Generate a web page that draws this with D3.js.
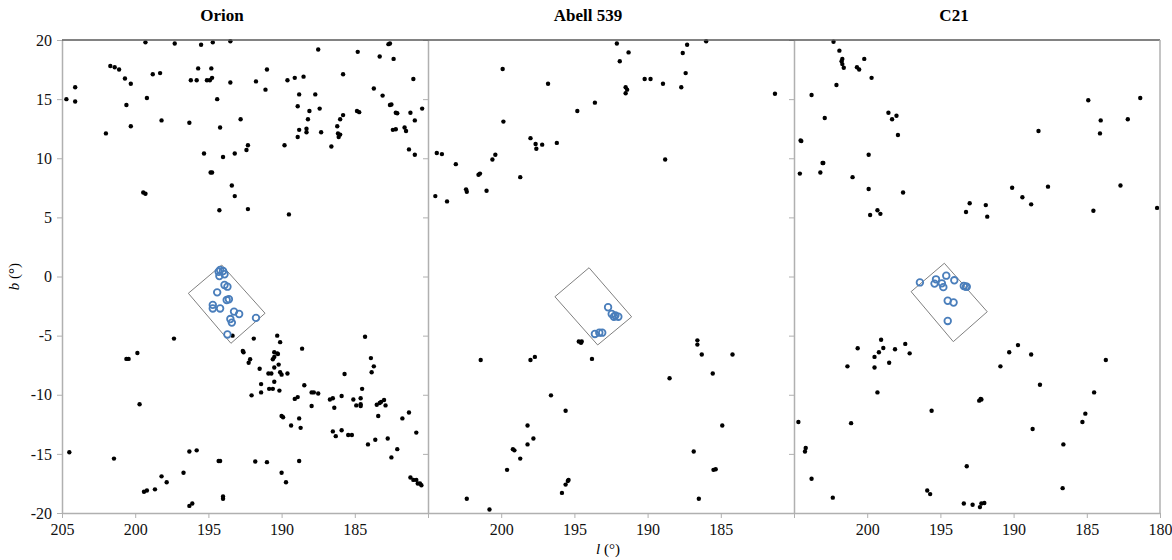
<!DOCTYPE html>
<html>
<head>
<meta charset="utf-8">
<script src="https://cdn.jsdelivr.net/npm/d3@7"></script>
<style>
  body { margin: 0; background: #fff; }
  svg { font-family: "Liberation Serif", "Times New Roman", serif; }
</style>
</head>
<body>
<svg id="s" width="1172" height="560"></svg>
<script>
// panel names
var panelNames = ["Orion", "Abell 539", "C21"];

// tick values
var lTicks = [205, 200, 195, 190, 185, 180];
var bTicks = [-20, -15, -10, -5, 0, 5, 10, 15, 20];
var lLabels = [[205, 200, 195, 190, 185], [200, 195, 190, 185], [200, 195, 190, 185, 180]];

// field objects [l, b]
var orionField = [
 [204.7,15.0],[204.1,16.0],[204.1,14.8],[202.0,12.1],[201.7,17.8],[201.4,17.7],[201.1,17.5],[200.7,16.75],
 [200.3,16.3],[200.6,14.5],[200.3,12.7],[199.3,19.8],[199.2,15.1],[198.8,17.1],[198.3,17.2],[198.2,13.2],
 [197.3,19.7],[196.3,13.0],[196.2,16.6],[195.8,16.6],[195.7,17.6],[195.5,19.6],[195.3,10.4],[195.1,16.6],
 [194.9,16.6],[194.75,16.8],[194.8,17.6],[194.7,19.8],[194.4,15.0],[194.2,12.6],[194.0,10.1],[194.85,8.8],
 [194.75,8.8],[193.5,19.9],[193.5,16.4],[192.8,13.3],[193.2,10.4],[192.4,10.7],[192.3,11.1],[191.75,16.5],
 [191.0,17.5],[191.1,15.8],[189.8,11.1],[189.6,16.6],[189.1,16.8],[188.5,16.9],[188.9,14.4],[188.8,15.4],
 [188.9,11.8],[188.8,12.4],[188.2,13.3],[188.1,14.0],[188.3,12.5],[188.3,12.2],[187.7,15.4],[187.5,19.2],
 [187.4,14.2],[187.3,12.2],[186.6,11.0],[186.2,12.7],[186.15,12.1],[186.1,11.8],[186.0,12.0],[186.0,13.3],
 [185.8,13.65],[185.8,17.1],[184.8,19.0],[184.85,14.0],[184.7,13.9],[183.7,15.9],[183.3,18.6],[183.1,15.3],
 [182.7,19.65],[182.6,19.7],[182.35,18.4],[182.6,14.5],[182.5,14.55],[182.2,13.85],[182.1,13.8],[182.4,12.4],
 [182.2,12.45],[181.6,12.6],[181.5,12.3],[181.3,10.75],[180.9,10.3],[181.2,13.85],[181.0,16.7],[180.9,13.2],
 [180.4,14.2],
 [199.45,7.1],[199.3,7.0],[193.4,7.7],[193.2,6.8],[194.25,5.6],[192.3,5.7],[189.5,5.25],
 [197.35,-5.25],[193.35,-5.0],[191.9,-5.25],[190.3,-5.0],[190.1,-5.55],[184.3,-5.1],[188.6,-6.1],
 [204.5,-14.86],[201.45,-15.4],[200.6,-6.97],[200.45,-6.97],[199.85,-6.47],[199.7,-10.8],[199.4,-18.2],
 [199.2,-18.1],[198.65,-18.0],[198.2,-16.9],[197.85,-17.4],[196.7,-16.6],[196.3,-14.8],[195.8,-14.7],
 [196.3,-19.4],[196.1,-19.2],[194.3,-15.6],[194.2,-15.6],[194.0,-18.6],[194.0,-18.8],[192.65,-6.3],
 [192.6,-6.4],[192.25,-7.3],[192.15,-7.0],[191.5,-7.8],[191.4,-9.1],[191.4,-9.8],[192.05,-10.05],
 [190.9,-8.2],[190.7,-8.2],[190.85,-9.5],[190.6,-9.5],[190.6,-7.0],[190.5,-6.8],[190.5,-6.4],[190.3,-6.5],
 [190.25,-6.55],[190.5,-7.7],[190.5,-8.9],[190.2,-7.45],[190.1,-8.1],[190.0,-8.3],[190.15,-9.65],
 [189.6,-8.2],[190.0,-11.8],[189.9,-11.9],[189.35,-12.6],[190.0,-16.6],[189.7,-17.4],[188.45,-9.2],
 [189.1,-10.35],[188.9,-10.2],[188.8,-12.0],[188.7,-12.8],[188.8,-15.6],[187.95,-9.8],[187.8,-9.8],
 [187.5,-9.9],[187.95,-10.95],[191.8,-15.65],[191.0,-15.7],[186.7,-10.4],[186.5,-10.3],[186.4,-11.1],
 [186.5,-13.1],[186.3,-13.5],[185.9,-10.1],[185.9,-13.0],[185.7,-8.25],[185.45,-13.4],[185.2,-13.4],
 [185.1,-10.4],[184.9,-10.9],[184.6,-10.3],[184.6,-10.8],[184.6,-10.95],[184.5,-9.5],[183.9,-6.9],
 [183.7,-7.6],[183.85,-8.1],[184.1,-14.2],[183.6,-13.8],[183.5,-10.85],[183.3,-10.7],[183.2,-10.6],
 [183.0,-10.45],[182.9,-10.9],[183.4,-11.8],[182.75,-13.7],[182.5,-15.3],[182.1,-14.6],[181.75,-12.0],
 [181.3,-11.5],[180.8,-13.2],[181.2,-17.0],[181.0,-17.2],[180.8,-17.2],[180.7,-17.5],[180.55,-17.5],
 [180.45,-17.65]
];
var abellField = [
 [204.4,10.45],[204.05,10.35],[203.1,9.5],[201.55,8.6],[201.45,8.7],[200.6,9.9],[200.4,10.3],[199.9,17.55],
 [199.85,13.1],[198.7,8.4],[198.0,11.7],[197.65,11.2],[197.6,10.8],[197.2,11.15],[196.8,16.3],[196.2,11.3],
 [194.8,14.0],[193.6,14.7],[192.1,19.7],[191.9,18.2],[191.3,18.95],[191.5,16.0],[191.4,15.8],[191.5,15.5],
 [190.2,16.7],[189.8,16.7],[188.95,16.3],[188.8,9.9],[187.7,16.0],[187.6,18.9],[187.4,17.2],[187.3,19.6],
 [186.0,19.9],[181.3,15.45],
 [204.5,6.8],[203.7,6.35],[202.4,7.37],[202.35,7.17],[201.0,7.25],
 [194.7,-5.5],[194.55,-5.6],[194.5,-5.5],[186.6,-5.4],[186.6,-5.76],
 [202.35,-18.8],[201.4,-7.06],[200.8,-19.7],[199.6,-16.35],[199.2,-14.6],[199.1,-14.7],[198.7,-15.4],
 [198.2,-12.6],[198.2,-14.2],[198.0,-7.06],[197.7,-6.8],[197.8,-13.7],[196.6,-10.05],[195.85,-18.3],
 [195.6,-11.35],[195.6,-17.6],[195.45,-17.3],[195.4,-17.2],[193.8,-6.97],[188.5,-8.6],[186.85,-14.8],
 [186.3,-6.6],[186.5,-18.8],[185.55,-8.2],[185.5,-16.35],[185.35,-16.3],[184.9,-12.6],[184.2,-6.6]
];
var c21Field = [
 [204.55,11.5],[204.6,8.7],[202.3,19.85],[201.9,19.1],[201.7,18.4],[201.75,18.2],[201.7,17.96],[201.6,17.65],
 [200.7,17.7],[200.55,17.5],[200.2,18.4],[199.7,16.8],[202.1,16.2],[203.8,15.35],[202.9,13.4],[204.5,11.45],
 [198.55,13.85],[198.3,13.3],[198.0,13.6],[197.9,11.96],[199.9,10.3],[203.05,9.6],[203.0,9.6],[203.2,8.8],
 [201.0,8.4],[188.3,12.3],[184.9,14.9],[184.05,13.2],[184.1,12.1],[182.2,13.3],[181.35,15.1],
 [199.9,7.4],[199.3,5.6],[199.1,5.3],[199.8,5.2],[197.55,7.1],[193.25,5.45],[193.0,6.2],[191.9,6.04],
 [191.8,5.06],[190.1,7.5],[189.4,6.7],[188.8,6.1],[187.65,7.6],[184.55,5.56],[182.7,7.7],[180.2,5.8],
 [199.05,-5.35],[200.65,-6.07],[198.9,-6.05],[198.1,-6.15],[197.4,-5.7],[189.7,-5.8],[197.1,-6.5],
 [199.5,-6.8],[199.2,-6.4],[198.5,-7.3],[199.5,-7.7],[201.35,-7.6],[199.3,-9.8],[204.7,-12.3],
 [204.25,-14.8],[204.2,-14.5],[203.8,-17.1],[202.35,-18.7],[201.1,-12.4],[195.6,-11.35],[195.9,-18.1],
 [195.7,-18.4],[193.2,-16.05],[193.4,-19.2],[192.8,-19.3],[192.35,-10.5],[192.25,-10.35],[192.2,-10.4],
 [192.3,-19.5],[192.2,-19.2],[192.0,-19.15],[190.9,-7.6],[190.3,-6.4],[188.8,-6.6],[188.7,-12.9],
 [188.2,-9.15],[186.65,-17.9],[186.6,-14.2],[185.3,-12.3],[185.1,-11.6],[184.5,-9.8],[183.7,-7.06]
];

// cluster members [l, b]
var orionMembers = [
 [194.3,0.4],[194.2,0.55],[194.0,0.46],[193.9,0.19],[194.25,0.04],[193.9,-0.72],[193.7,-0.86],[194.4,-1.34],
 [193.75,-1.99],[193.6,-1.93],[194.7,-2.4],[194.7,-2.7],[194.2,-2.7],[193.25,-2.97],[192.9,-3.17],
 [193.5,-3.6],[193.4,-3.9],[191.75,-3.5],[193.7,-4.9]
];
var abellMembers = [
 [192.7,-2.6],[192.45,-3.17],[192.3,-3.4],[192.0,-3.4],[192.2,-3.3],[193.6,-4.86],[193.3,-4.75],[193.1,-4.75]
];
var c21Members = [
 [196.4,-0.5],[195.3,-0.24],[195.4,-0.6],[194.9,-0.58],[194.8,-0.9],[194.6,0.07],[194.05,-0.32],
 [193.4,-0.8],[193.25,-0.86],[193.2,-0.86],[194.5,-2.05],[194.1,-2.2],[194.5,-3.76]
];

// selection boxes, corners [l, b]
var orionBox = [[194.09,0.97],[196.37,-1.42],[193.46,-5.65],[191.13,-3.11]];
var abellBox = [[194.0,0.74],[196.33,-1.71],[193.41,-5.79],[191.09,-3.41]];
var c21Box = [[194.73,1.12],[197.0,-1.28],[194.12,-5.51],[191.8,-2.98]];

var fields = [orionField, abellField, c21Field];
var members = [orionMembers, abellMembers, c21Members];
var boxes = [orionBox, abellBox, c21Box];

var padL = 62, padT = 40, pw = 366, ph = 473;
var svg = d3.select("#s");

var y = d3.scaleLinear().domain([-20, 20]).range([padT + ph, padT]);

panelNames.forEach(function(name, i) {
    var x0 = padL + i * pw;
    var x = d3.scaleLinear().domain([205, 180]).range([x0, x0 + pw]);
    var g = svg.append("g");

    // title
    g.append("text")
        .attr("x", x0 + pw / 2 - 23).attr("y", 21)
        .attr("text-anchor", "middle")
        .attr("font-size", 17).attr("font-weight", "bold")
        .text(name);

    // y axis (labels only on first panel)
    var ya = g.append("g").attr("transform", "translate(" + x0 + ",0)")
        .call(d3.axisLeft(y).tickValues(bTicks).tickSize(5).tickSizeOuter(0)
            .tickFormat(function(d) { return i == 0 ? String(d) : ""; }));
    ya.select(".domain").attr("stroke", "#b0b0b0").attr("stroke-width", 1.5);
    ya.selectAll(".tick line").attr("stroke", "#b0b0b0");
    ya.selectAll("text").attr("font-size", 16).attr("fill", "#111")
        .attr("font-family", "Liberation Serif").attr("dx", -2);

    // x axis
    var labs = lLabels[i];
    var xa = g.append("g").attr("transform", "translate(0," + (padT + ph) + ")")
        .call(d3.axisBottom(x).tickValues(lTicks).tickSize(5).tickSizeOuter(0)
            .tickFormat(function(d) { return labs.indexOf(d) >= 0 ? String(d) : ""; }));
    xa.select(".domain").attr("stroke", "#b0b0b0").attr("stroke-width", 1.5);
    xa.selectAll(".tick line").attr("stroke", "#b0b0b0");
    xa.selectAll("text").attr("font-size", 16).attr("fill", "#111")
        .attr("font-family", "Liberation Serif").attr("dy", "0.9em");

    // selection box
    g.append("polygon")
        .attr("points", boxes[i].map(function(p) { return x(p[0]) + "," + y(p[1]); }).join(" "))
        .attr("fill", "none").attr("stroke", "#808080").attr("stroke-width", 1);

    // field objects
    g.selectAll("circle.f").data(fields[i]).enter().append("circle")
        .attr("cx", function(d) { return x(d[0]); })
        .attr("cy", function(d) { return y(d[1]); })
        .attr("r", 2.2).attr("fill", "black");

    // members
    g.selectAll("circle.m").data(members[i]).enter().append("circle")
        .attr("cx", function(d) { return x(d[0]); })
        .attr("cy", function(d) { return y(d[1]); })
        .attr("r", 3.3).attr("fill", "none")
        .attr("stroke", "#4a7ebb").attr("stroke-width", 1.8);
});

// top and right frame
svg.append("line").attr("x1", padL).attr("x2", padL + 3 * pw)
    .attr("y1", padT).attr("y2", padT).attr("stroke", "#595959").attr("stroke-width", 1.5);
svg.append("line").attr("x1", padL + 3 * pw).attr("x2", padL + 3 * pw)
    .attr("y1", padT).attr("y2", padT + ph).attr("stroke", "#b0b0b0").attr("stroke-width", 1.5);

// axis titles
svg.append("text").attr("transform", "translate(19," + (padT + ph / 2) + ") rotate(-90)")
    .attr("text-anchor", "middle").attr("font-size", 15)
    .html('<tspan font-style="italic">b</tspan> (°)');
svg.append("text").attr("x", padL + 1.5 * pw - 3).attr("y", 554)
    .attr("text-anchor", "middle").attr("font-size", 15)
    .html('<tspan font-style="italic">l</tspan> (°)');
</script>
</body>
</html>
